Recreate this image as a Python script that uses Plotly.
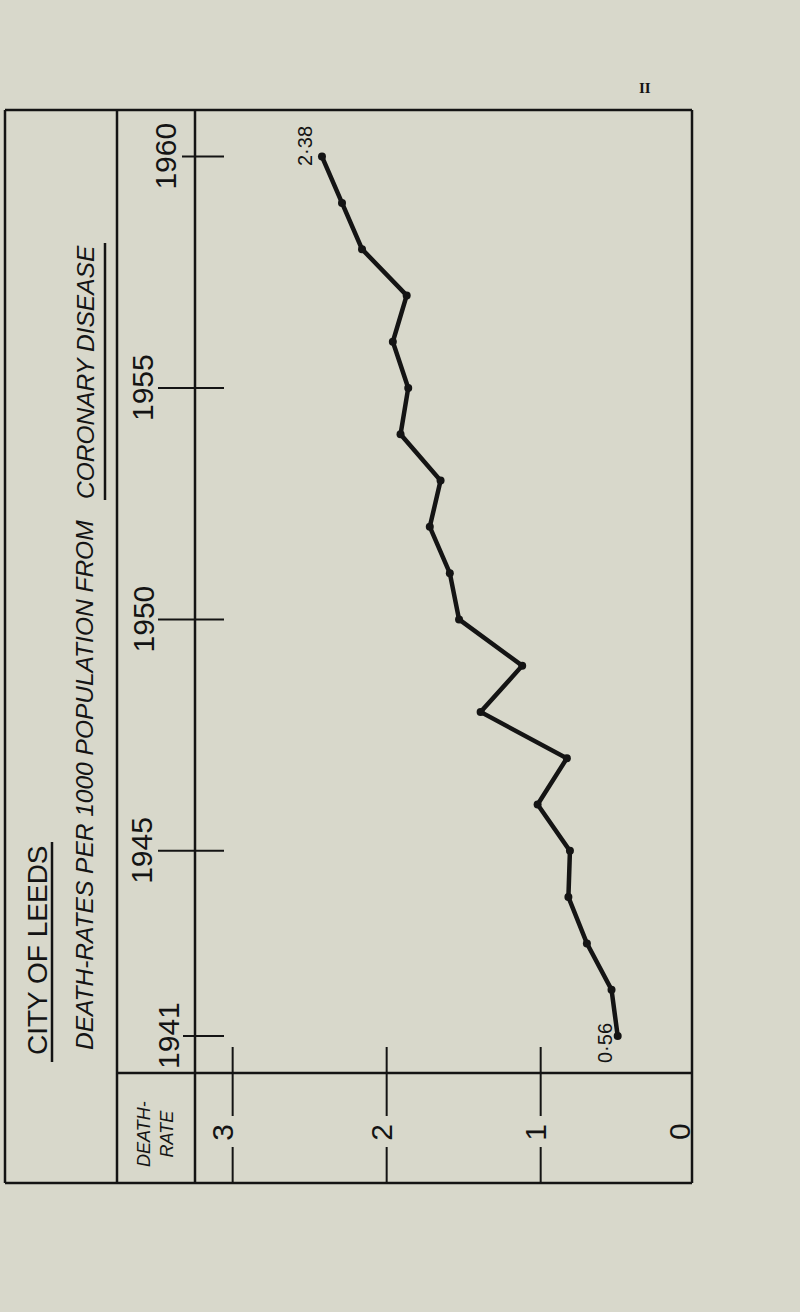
import plotly.graph_objects as go

# ---- data ----
years = list(range(1941, 1961))
rates = [0.50, 0.54, 0.70, 0.82, 0.81, 1.02, 0.83, 1.39, 1.12, 1.53,
         1.59, 1.72, 1.65, 1.91, 1.86, 1.96, 1.87, 2.16, 2.29, 2.42]
year_ticks = [1941, 1945, 1950, 1955, 1960]
rate_ticks = [3, 2, 1]
rate_labels = ["3", "2", "1"]
rate_label_vals = [3, 2, 1]
zero_label = "0"
end_labels = ["0·56", "2·38"]

W, H = 800, 1312
BG = "rgb(216,216,203)"
INK = "#141414"
FONT = "Liberation Sans, Arial, sans-serif"


def px(x):
    return x / W


def py(y):
    return 1 - y / H


fig = go.Figure()
fig.add_trace(go.Scatter(
    x=rates, y=years, mode="lines+markers",
    line=dict(color=INK, width=4.5),
    marker=dict(color=INK, size=8),
    hoverinfo="x+y", showlegend=False, cliponaxis=False,
))

shapes = []


def pline(x0, y0, x1, y1, w=2.5):
    shapes.append(dict(type="line", xref="paper", yref="paper",
                       x0=px(x0), y0=py(y0), x1=px(x1), y1=py(y1),
                       line=dict(color=INK, width=w)))


# outer frame and panel dividers
pline(5, 110, 692, 110)
pline(5, 1183, 692, 1183)
pline(5, 110, 5, 1183)
pline(692, 110, 692, 1183)
pline(117, 110, 117, 1183)
pline(195, 110, 195, 1183)
pline(117, 1073, 692, 1073)
# underlines
pline(52, 1062, 52, 842, 2.5)
pline(105, 500, 105, 243, 2.5)

# year ticks (through the y axis)
tick_x0 = {1941: 183, 1945: 158, 1950: 158, 1955: 158, 1960: 182}
for yr in year_ticks:
    shapes.append(dict(type="line", xref="paper", yref="y",
                       x0=px(tick_x0[yr]), x1=px(224), y0=yr, y1=yr,
                       line=dict(color=INK, width=2)))

# rate ticks (through the x axis)
for r in rate_ticks:
    shapes.append(dict(type="line", xref="x", yref="paper", x0=r, x1=r,
                       y0=py(1047), y1=py(1116), line=dict(color=INK, width=2)))
    shapes.append(dict(type="line", xref="x", yref="paper", x0=r, x1=r,
                       y0=py(1147), y1=py(1183), line=dict(color=INK, width=2)))

annotations = []
# year labels
label_x = {1941: 169, 1945: 142, 1950: 143, 1955: 142, 1960: 166}
for yr in year_ticks:
    annotations.append(dict(text=str(yr), xref="paper", yref="y",
                            x=px(label_x[yr]), y=yr, showarrow=False,
                            textangle=-90, xanchor="center", yanchor="middle",
                            font=dict(family=FONT, size=30, color=INK)))

# rate labels
rate_shift = {3: -11, 2: -6, 1: -6}
for lab, v in zip(rate_labels, rate_label_vals):
    annotations.append(dict(text=lab, xref="x", yref="paper", x=v, y=py(1132),
                            xshift=rate_shift[v], showarrow=False, textangle=-90,
                            xanchor="center", yanchor="middle",
                            font=dict(family=FONT, size=30, color=INK)))
# the zero sits on the frame edge, outside the axis range
annotations.append(dict(text=zero_label, xref="paper", yref="paper",
                        x=px(679), y=py(1132), showarrow=False, textangle=-90,
                        xanchor="center", yanchor="middle",
                        font=dict(family=FONT, size=30, color=INK)))

# end value labels
annotations.append(dict(text=end_labels[0], xref="paper", yref="paper",
                        x=px(605), y=py(1043), showarrow=False, textangle=-90,
                        xanchor="center", yanchor="middle",
                        font=dict(family=FONT, size=20, color=INK)))
annotations.append(dict(text=end_labels[1], xref="paper", yref="paper",
                        x=px(305), y=py(146), showarrow=False, textangle=-90,
                        xanchor="center", yanchor="middle",
                        font=dict(family=FONT, size=20, color=INK)))

# titles
annotations.append(dict(text="CITY OF LEEDS", xref="paper", yref="paper",
                        x=px(37), y=py(950), showarrow=False, textangle=-90,
                        xanchor="center", yanchor="middle",
                        font=dict(family=FONT, size=28, color=INK)))
annotations.append(dict(text="<i>DEATH-RATES PER 1000 POPULATION FROM</i>",
                        xref="paper", yref="paper", x=px(85), y=py(785),
                        showarrow=False, textangle=-90, xanchor="center",
                        yanchor="middle",
                        font=dict(family=FONT, size=24.5, color=INK)))
annotations.append(dict(text="<i>CORONARY DISEASE</i>",
                        xref="paper", yref="paper", x=px(86), y=py(372),
                        showarrow=False, textangle=-90, xanchor="center",
                        yanchor="middle",
                        font=dict(family=FONT, size=24.5, color=INK)))
annotations.append(dict(text="<i>DEATH-<br>RATE</i>", xref="paper", yref="paper",
                        x=px(155), y=py(1134), showarrow=False, textangle=-90,
                        xanchor="center", yanchor="middle", align="center",
                        font=dict(family=FONT, size=18, color=INK)))
# page number
annotations.append(dict(text="<b>II</b>", xref="paper", yref="paper",
                        x=px(645), y=py(88), showarrow=False,
                        xanchor="center", yanchor="middle",
                        font=dict(family="Liberation Serif, serif", size=15,
                                  color=INK)))

fig.update_layout(
    width=W, height=H,
    margin=dict(l=0, r=0, t=0, b=0),
    paper_bgcolor=BG, plot_bgcolor=BG,
    shapes=shapes, annotations=annotations,
    xaxis=dict(domain=[px(196), px(692)], range=[3.238, 0.0175],
               showgrid=False, zeroline=False, showticklabels=False,
               ticks="", showline=False, fixedrange=True),
    yaxis=dict(domain=[py(1073), py(108)], range=[1940.20, 1961.05],
               showgrid=False, zeroline=False, showticklabels=False,
               ticks="", showline=False, fixedrange=True),
)

fig.write_html("out.html",
               config={"displayModeBar": False},
               post_script="document.body.style.margin='0';"
                           "document.body.style.overflow='hidden';")
